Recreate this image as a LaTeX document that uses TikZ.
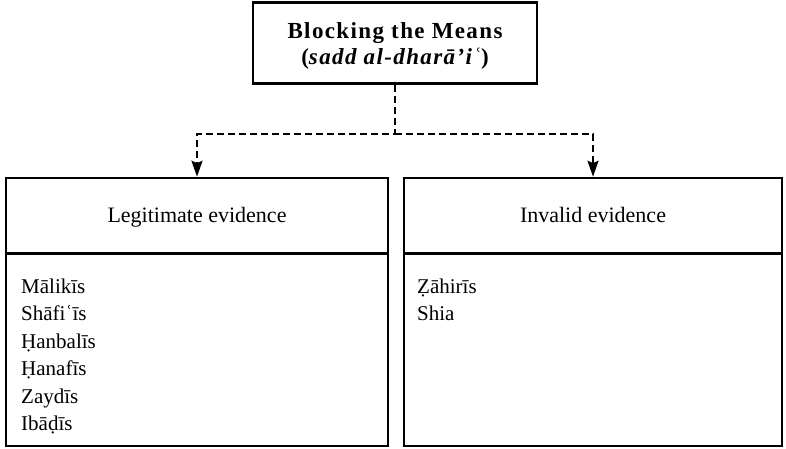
\documentclass[tikz,border=0pt]{standalone}
\usepackage{fontspec}
\setmainfont{Liberation Serif}
\newfontfamily\titlefont[LetterSpace=6]{Liberation Serif}
\usetikzlibrary{arrows.meta, calc}

\tikzset{
  box/.style={draw, rectangle, line width=2.6pt, inner sep=0pt},
  conn/.style={dash pattern=on 7pt off 4pt, line width=2.2pt, -{Stealth[length=16pt, width=11pt, inset=2.5pt]}},
  title/.style={anchor=base, inner sep=0pt, font=\titlefont\fontsize{23}{26}\selectfont\bfseries},
  head/.style={anchor=base, inner sep=0pt, font=\fontsize{22}{26}\selectfont},
  item/.style={anchor=base west, inner sep=0pt, font=\fontsize{21}{27.5}\selectfont},
}

\begin{document}
\begin{tikzpicture}[x=1pt, y=-1pt]
\useasboundingbox (0,0) rectangle (786,449);
\node[box, minimum width=284pt, minimum height=81pt] (means) at (395,43) {};
\node[title] (meansa) at (395,39) {Blocking the Means};
\node[title] (meansb) at (395,65) {({\itshape sadd al-dharā’iʿ})};
\node[box, minimum width=382pt, minimum height=268pt] (legit) at (197,312) {};
\node[box, minimum width=378pt, minimum height=268pt] (invalid) at (593,312) {};
\draw[line width=2.6pt] ($(legit.north west)+(0,77)$) -- ($(legit.north east)+(0,77)$);
\draw[line width=2.6pt] ($(invalid.north west)+(0,77)$) -- ($(invalid.north east)+(0,77)$);
\node[head] (legithead) at (197,222) {Legitimate evidence};
\node[head] (invalidhead) at (593,222) {Invalid evidence};
\node[item] (maliki) at (21,293) {Mālikīs};
\node[item] (shafii) at (21,320.5) {Shāfiʿīs};
\node[item] (hanbali) at (21,348) {Ḥanbalīs};
\node[item] (hanafi) at (21,375.5) {Ḥanafīs};
\node[item] (zaydi) at (21,403) {Zaydīs};
\node[item] (ibadi) at (21,430.5) {Ibāḍīs};
\node[item] (zahiri) at (417,293) {Ẓāhirīs};
\node[item] (shia) at (417,320.5) {Shia};
\coordinate (split) at (395,134);
\draw[conn] (means.south) -- (split) -| (legit.north);
\draw[conn] (split) -| (invalid.north);
\end{tikzpicture}
\end{document}
